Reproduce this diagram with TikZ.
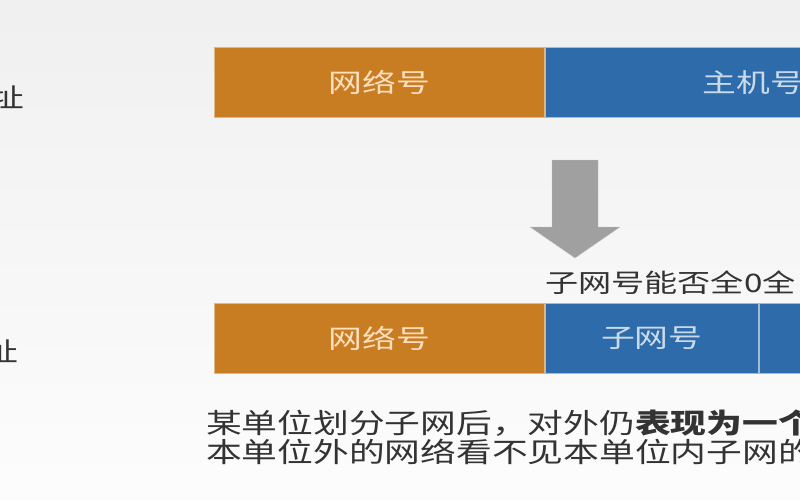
\documentclass[tikz,border=0pt]{standalone}
\usepackage{fontspec}
\setmainfont{Noto Sans CJK SC}[FakeStretch=1.3]
\definecolor{netorange}{HTML}{C97D22}
\definecolor{hostblue}{HTML}{2E6BAA}
\definecolor{txtgray}{HTML}{333333}
\definecolor{arrowgray}{HTML}{A0A0A0}
\tikzset{
  field/.style={minimum height=70pt, inner sep=0pt, line width=0.8pt, font=\fontsize{26}{28}\selectfont},
  netfield/.style={field, fill=netorange, draw=netorange!55!white, text=orange!25!white},
  hostfield/.style={field, fill=hostblue, draw=hostblue!45!white, text=hostblue!25!white},
  plain/.style={inner sep=0pt, text=txtgray, font=\fontsize{26}{28}\selectfont}
}
\begin{document}
\begin{tikzpicture}[x=1pt,y=-1pt]

            \useasboundingbox (0,0) rectangle (800,500);
            \clip (0,0) rectangle (800,500);
            \shade[top color=black!6, bottom color=black!1] (0,0) rectangle (800,500);

            % address labels, cut at the left edge
            \node[plain, anchor=east] (addr1) at (25,97) {地址};
            \node[plain, anchor=east] (addr2) at (19,351) {地址};

            % before subnetting
            \node[netfield, minimum width=330pt, anchor=north west] (net1) at (214,47) {网络号};
            \node[hostfield, minimum width=416pt, anchor=west] (host1) at (net1.east) {主机号};

            \fill[arrowgray, draw=arrowgray!60!white] (552,160) -- (598,160) -- (598,227) -- (620,227)
                -- (575,258) -- (530,227) -- (552,227) -- cycle;

            \node[plain, anchor=west, font=\fontsize{25.5}{28}\selectfont] (ask) at (545,283) {子网号能否全0全};

            % after subnetting
            \node[netfield, minimum width=330pt, anchor=north west] (net2) at (214,303) {网络号};
            \node[hostfield, minimum width=213pt, anchor=west] (sub2) at (net2.east) {子网号};
            \node[hostfield, minimum width=100pt, anchor=west] (host2) at (sub2.east) {};

            \node[plain, anchor=north west, align=left, font=\fontsize{27.5}{28.5}\selectfont] (note) at (206,410)
                {某单位划分子网后，对外仍\textbf{表现为一个}\\本单位外的网络看不见本单位内子网的};
        \end{tikzpicture}
\end{document}
